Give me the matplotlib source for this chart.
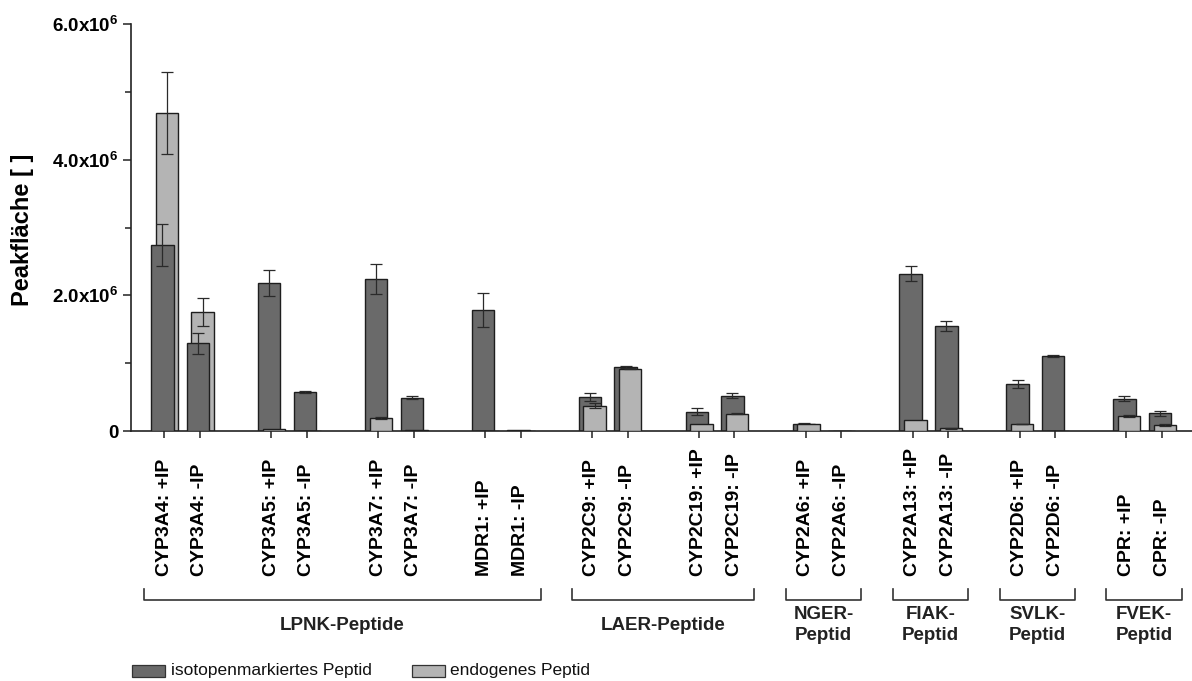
import matplotlib
matplotlib.use("Agg")
import matplotlib.pyplot as plt
from matplotlib.patches import Rectangle
from matplotlib.ticker import FixedLocator

# ---------------- data ----------------
categories = ["CYP3A4: +IP", "CYP3A4: -IP", "CYP3A5: +IP", "CYP3A5: -IP",
              "CYP3A7: +IP", "CYP3A7: -IP", "MDR1: +IP", "MDR1: -IP",
              "CYP2C9: +IP", "CYP2C9: -IP", "CYP2C19: +IP", "CYP2C19: -IP",
              "CYP2A6: +IP", "CYP2A6: -IP", "CYP2A13: +IP", "CYP2A13: -IP",
              "CYP2D6: +IP", "CYP2D6: -IP", "CPR: +IP", "CPR: -IP"]

# values in units of 1e6
isotope = [2.74, 1.29, 2.18, 0.575, 2.24, 0.49, 1.785, 0.008,
           0.506, 0.944, 0.285, 0.52, 0.103, 0.0, 2.316, 1.544,
           0.689, 1.106, 0.477, 0.26]
isotope_err = [0.31, 0.155, 0.19, 0.02, 0.22, 0.02, 0.245, 0.0,
               0.06, 0.01, 0.05, 0.037, 0.01, 0.0, 0.11, 0.077,
               0.06, 0.015, 0.042, 0.04]
endogen = [4.69, 1.755, 0.025, 0.0, 0.187, 0.01, 0.0, 0.0,
           0.373, 0.92, 0.103, 0.256, 0.10, 0.0, 0.157, 0.04,
           0.103, 0.0, 0.226, 0.088]
endogen_err = [0.6, 0.2, 0.0, 0.0, 0.015, 0.0, 0.0, 0.0,
               0.037, 0.01, 0.0, 0.01, 0.0, 0.0, 0.0, 0.005,
               0.005, 0.0, 0.015, 0.015]

groups = [(0, 7, "LPNK-Peptide"), (8, 11, "LAER-Peptide"),
          (12, 13, "NGER-\nPeptid"), (14, 15, "FIAK-\nPeptid"),
          (16, 17, "SVLK-\nPeptid"), (18, 19, "FVEK-\nPeptid")]

series_names = ["isotopenmarkiertes Peptid", "endogenes Peptid"]
ytick_vals = [0, 2, 4, 6]
ytick_labels = ["0", "2.0x10$^{6}$", "4.0x10$^{6}$", "6.0x10$^{6}$"]
ylabel = "Peakfläche [ ]"

# ---------------- layout / style ----------------
scale = 1e6
slots = [0, 1, 3, 4, 6, 7, 9, 10, 12, 13, 15, 16, 18, 19, 21, 22, 24, 25, 27, 28]
dark_c = "#6a6a6a"
light_c = "#b4b4b4"
edge_c = "#1e1e1e"
bar_w = 0.63
off_dark = -0.055
off_light = 0.075

plt.rcParams["font.family"] = ["Liberation Sans", "DejaVu Sans"]
plt.rcParams["mathtext.fontset"] = "custom"
plt.rcParams["mathtext.rm"] = "Liberation Sans"
plt.rcParams["mathtext.bf"] = "Liberation Sans:bold"
plt.rcParams["mathtext.default"] = "bf"

fig = plt.figure(figsize=(11.92, 6.81), dpi=100)
ax = fig.add_axes([131 / 1192, 250 / 681, 1061 / 1192, 407 / 681])

xd = [s + off_dark for s in slots]
xl = [s + off_light for s in slots]
yd = [v * scale for v in isotope]
yl = [v * scale for v in endogen]

bars_d = ax.bar(xd, yd, width=bar_w, color=dark_c, edgecolor=edge_c, linewidth=1.0)
bars_l = ax.bar(xl, yl, width=bar_w, color=light_c, edgecolor=edge_c, linewidth=1.0)

for i in range(len(categories)):
    zd, zl = (3, 2) if isotope[i] <= endogen[i] else (2, 3)
    bars_d[i].set_zorder(zd)
    bars_l[i].set_zorder(zl)
    if isotope_err[i] > 0:
        ax.errorbar(xd[i], yd[i], yerr=isotope_err[i] * scale, fmt="none",
                    ecolor="#2a2a2a", elinewidth=0.9, capsize=4, capthick=0.9,
                    zorder=zd + 0.5)
    if endogen_err[i] > 0:
        ax.errorbar(xl[i], yl[i], yerr=endogen_err[i] * scale, fmt="none",
                    ecolor="#2a2a2a", elinewidth=0.9, capsize=4, capthick=0.9,
                    zorder=zl + 0.5)

ax.set_xlim(-0.934, 28.84)
ax.set_ylim(0, 6 * scale)

for s in ["top", "right"]:
    ax.spines[s].set_visible(False)
for s in ["left", "bottom"]:
    ax.spines[s].set_linewidth(1.2)
    ax.spines[s].set_color("#222222")

ax.yaxis.set_major_locator(FixedLocator([v * scale for v in ytick_vals]))
ax.yaxis.set_minor_locator(FixedLocator([1 * scale, 3 * scale, 5 * scale]))
ax.set_yticklabels(ytick_labels, fontsize=13.5, fontweight="bold")
ax.tick_params(axis="y", which="major", direction="out", length=6, width=1.1,
               pad=3, color="#222222")
ax.tick_params(axis="y", which="minor", direction="out", length=4, width=1.1,
               color="#222222")

ax.set_xticks(slots)
ax.set_xticklabels([])
ax.tick_params(axis="x", direction="out", length=5, width=1.1, color="#222222")

ax.set_ylabel(ylabel, fontsize=17, fontweight="bold")
ax.yaxis.set_label_coords(-0.091, 0.494)

# category labels
tr = ax.get_xaxis_transform()
for s, lab in zip(slots, categories):
    ax.text(s, -0.356, lab, rotation=90, ha="center", va="bottom",
            fontsize=14, fontweight="bold", transform=tr, clip_on=False)

# group brackets
ext = 0.56
yb_top = -0.388
yb_bot = -0.415
for a, b, name in groups:
    x0 = slots[a] - ext
    x1 = slots[b] + ext
    ax.plot([x0, x0, x1, x1], [yb_top, yb_bot, yb_bot, yb_top], color="#333333",
            lw=1.2, transform=tr, clip_on=False)
    ax.text((x0 + x1) / 2, -0.477, name, ha="center", va="center",
            fontsize=13.5, fontweight="bold", color="#222222", linespacing=1.3,
            transform=tr, clip_on=False)

# legend
W, H = 1192, 681
leg = [(132, dark_c, 171, series_names[0]), (412, light_c, 450, series_names[1])]
for sx, col, tx, name in leg:
    fig.patches.append(Rectangle((sx / W, 1 - 677 / H), 33 / W, 12 / H,
                                 facecolor=col, edgecolor="#333333", lw=0.9,
                                 transform=fig.transFigure))
    fig.text(tx / W, 1 - 670.5 / H, name, ha="left", va="center",
             fontsize=12.5, color="#111111")

fig.savefig("out.png", dpi=100)
